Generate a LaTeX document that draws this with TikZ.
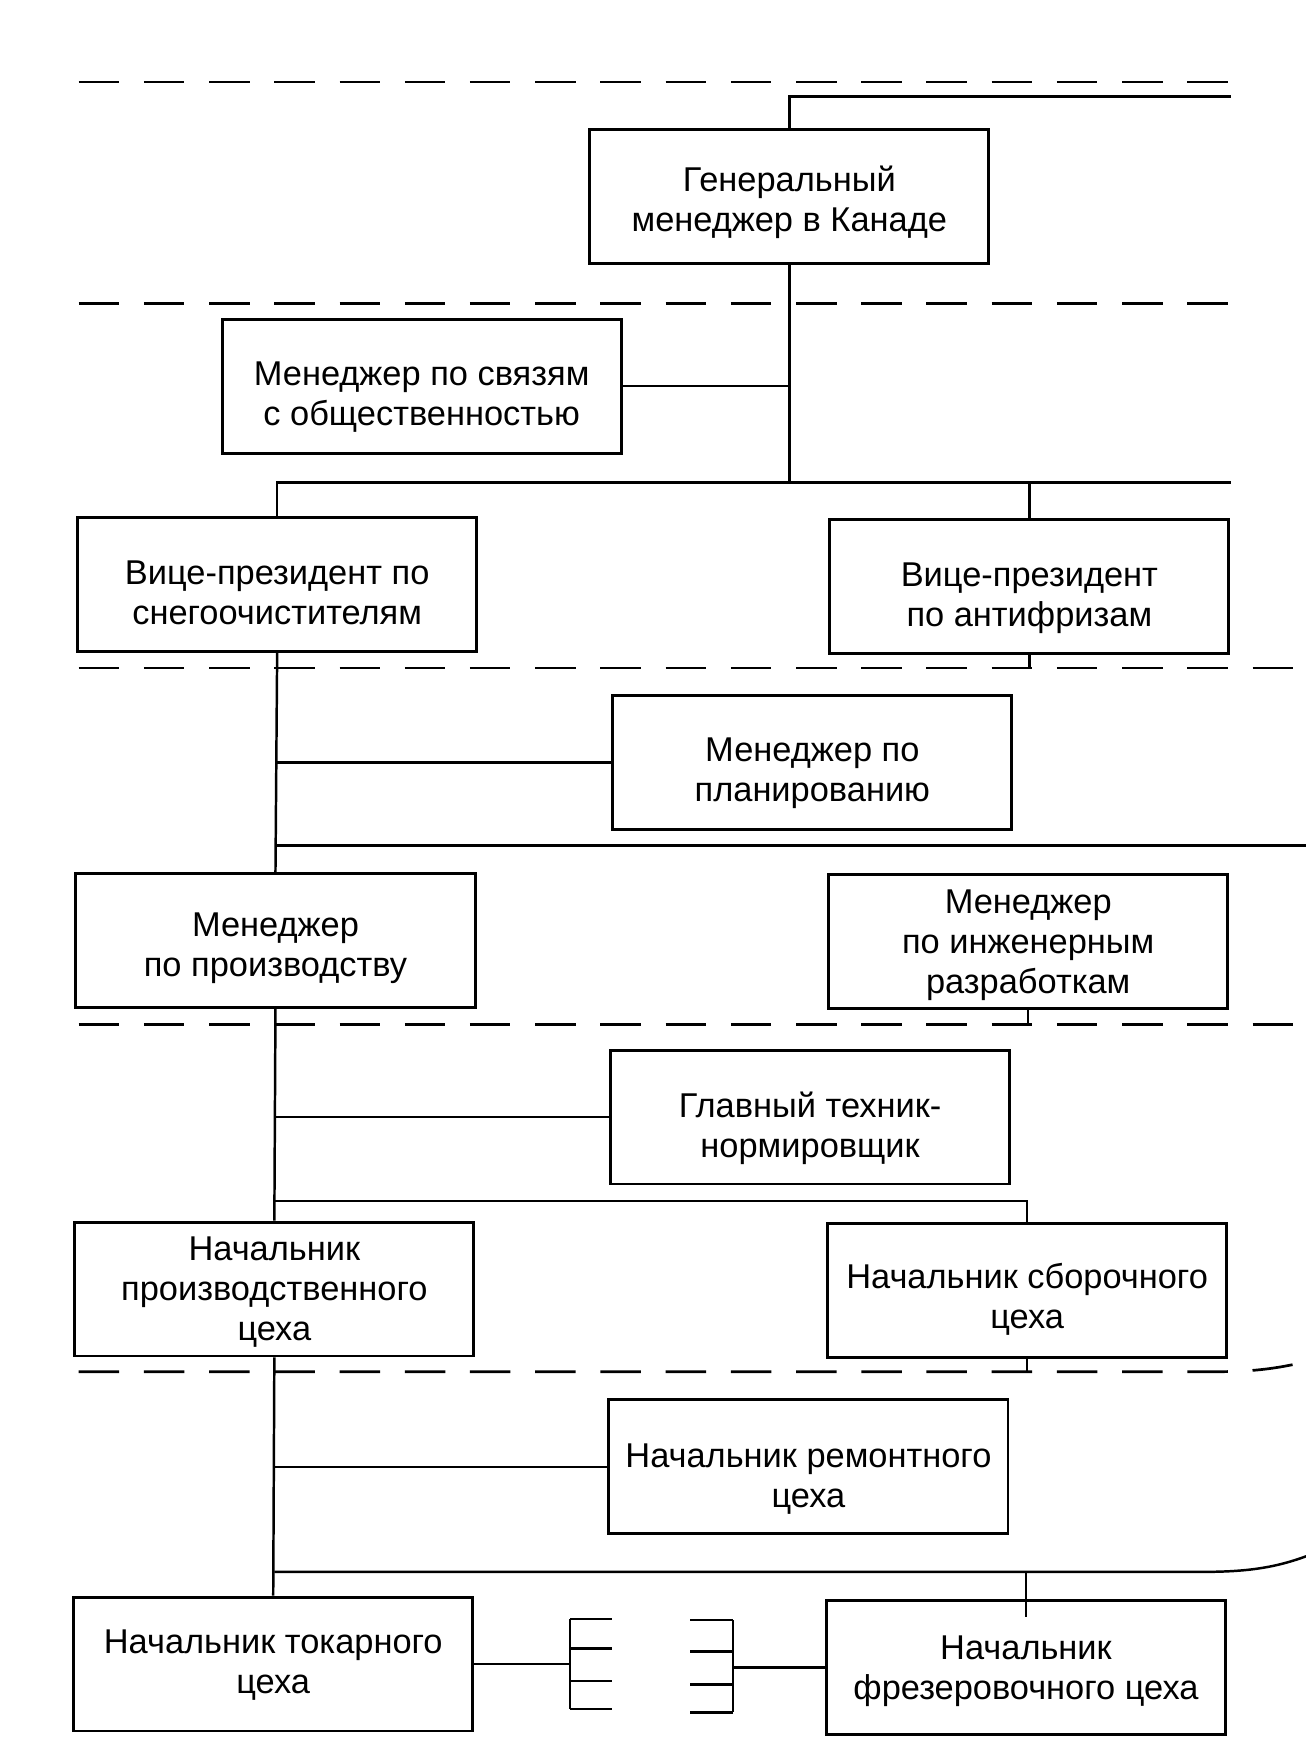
\documentclass[tikz,border=0pt]{standalone}
\usepackage{fontspec}
\setmainfont{Liberation Sans}
\usetikzlibrary{calc}
\begin{document}
\begin{tikzpicture}[x=0.5pt,y=-0.5pt,
  box/.style={draw, line width=1.3pt, minimum width=177.5pt, minimum height=59.5pt, inner sep=0pt},
  txt/.style={inner sep=0pt, align=center, font=\fontsize{15.3}{17.8}\selectfont},
  conn/.style={line width=1.1pt},
  sep/.style={line width=1.2pt, dash pattern=on 18pt off 11pt}]
\useasboundingbox (0,0) rectangle (1160.7,1568);

% separators
\draw[sep] (70,73) -- (1095,73);
\draw[sep] (70,270) -- (1095,270);
\draw[sep] (70,594) -- (1162,594);
\draw[sep] (70,911) -- (1162,911);
\draw[sep] (70,1220) -- (1080,1220) .. controls (1120,1220) and (1140,1216) .. (1162,1211);

% boxes
\node[box] (B1)  at (702,175)     {};
\node[box] (B2)  at (375,343.5)   {};
\node[box] (B3)  at (246.5,520)   {};
\node[box] (B4)  at (915.5,521.5) {};
\node[box] (B5)  at (722.5,678)   {};
\node[box] (B6)  at (245,836.5)   {};
\node[box] (B7)  at (914.5,837.5) {};
\node[box] (B8)  at (720.5,993.5) {};
\node[box] (B9)  at (244,1146.5)  {};
\node[box] (B10) at (913.5,1147.5){};
\node[box] (B11) at (719,1304.5)  {};
\node[box] (B12) at (243,1480)    {};
\node[box] (B13) at (912.5,1483)  {};

% texts
\node[txt] (T1)  at ([yshift=-2.5pt]B1.center)   {Генеральный\\менеджер в Канаде};
\node[txt] (T2)  at ([yshift=-5pt]B2.center)     {Менеджер по связям\\с общественностью};
\node[txt] (T3)  at ([yshift=-3.5pt]B3.center)   {Вице-президент по\\снегоочистителям};
\node[txt] (T4)  at ([yshift=-5.2pt]B4.center)   {Вице-президент\\по антифризам};
\node[txt] (T5)  at ([yshift=-5pt]B5.center)     {Менеджер по\\планированию};
\node[txt] (T6)  at ([yshift=-3.5pt]B6.center)   {Менеджер\\по производству};
\node[txt] (T7)  at ([yshift=-1.5pt]B7.center)   {Менеджер\\по инженерным\\разработкам};
\node[txt] (T8)  at ([yshift=-4.8pt]B8.center)   {Главный техник-\\нормировщик};
\node[txt] (T9)  at ([yshift=-1.2pt]B9.center)   {Начальник\\производственного\\цеха};
\node[txt] (T10) at ([yshift=-4.2pt]B10.center)  {Начальник сборочного\\цеха};
\node[txt] (T11) at ([yshift=-5.7pt]B11.center)  {Начальник ремонтного\\цеха};
\node[txt] (T12) at ([yshift=-0.3pt]B12.center)  {Начальник токарного\\цеха};
\node[txt] (T13) at ([yshift=-1.5pt]B13.center)  {Начальник\\фрезеровочного цеха};

% helper coordinates
\coordinate (t0) at (1095,86);
\coordinate (e1) at (1095,429);
\coordinate (e2) at (1162,752);
\coordinate (e3) at (913.5,1068);
\coordinate (e4) at (1070,1398);
\coordinate (e4end) at (1162,1384);

% top level
\draw[conn] (B1.north) |- (t0);
\draw[conn] (B1.south) -- (B1.south |- e1);
\draw[conn] (B2.east) -- (B2.east -| B1.south);
\draw[conn] (B3.north) |- (e1);
\draw[conn] (B4.north) -- (B4.north |- e1);
\draw[conn] (B4.south) -- ++(0,13);

% second level
\draw[conn] (B3.south) -- (B6.north);
\draw[conn] (B5.west) -- (B5.west -| B3.south);
\draw[conn] (B3.south |- e2) -- (e2);
\draw[conn] (B7.south) -- ++(0,14);

% third level
\draw[conn] (B6.south) -- (B9.north);
\draw[conn] (B8.west) -- (B8.west -| B6.south);
\draw[conn] (B6.south |- e3) -| (B10.north);
\draw[conn] (B10.south) -- ++(0,13);

% fourth level
\draw[conn] (B9.south) -- (B12.north);
\draw[conn] (B11.west) -- (B11.west -| B9.south);
\draw[conn] (B9.south |- e4) -- (e4) .. controls (1110,1398) and (1135,1394) .. (e4end);
\draw[conn] (B13.north |- e4) -- ($(B13.north)+(0,16)$);

% brackets
\coordinate (L0) at (507,1440);
\coordinate (L1) at (507,1520);
\coordinate (R0) at (652,1441);
\coordinate (R1) at (652,1523);
\draw[conn] (B12.east) -- (B12.east -| L0);
\draw[conn] (L0) -- (L1);
\foreach \yy in {1440,1466,1495,1520} \draw[conn] (507,\yy) -- (544,\yy);
\draw[conn] (B13.west) -- (B13.west -| R0);
\draw[conn] (R0) -- (R1);
\foreach \yy in {1441,1469,1498,1523} \draw[conn] (652,\yy) -- (614,\yy);
\end{tikzpicture}
\end{document}
